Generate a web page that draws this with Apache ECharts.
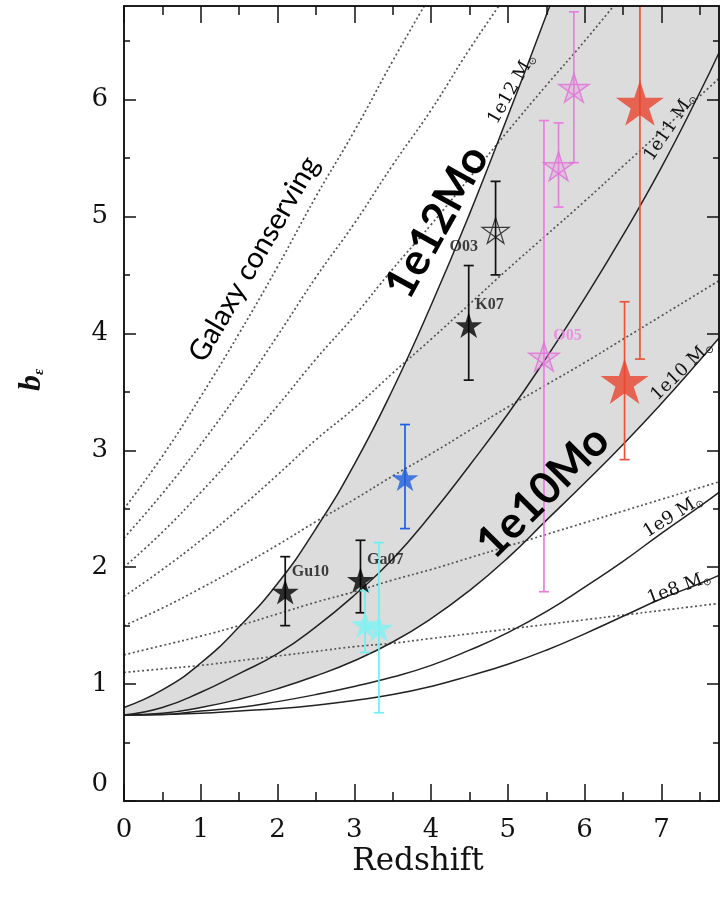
<!DOCTYPE html>
<html><head><meta charset="utf-8">
<script src="https://cdn.jsdelivr.net/npm/echarts@6/dist/echarts.min.js"></script>
<style>html,body{margin:0;padding:0;background:#fff}#c{width:724px;height:902px}</style>
</head><body><div id="c"></div>
<script>
// ---- axis ticks ----
const xMajor = [0,1,2,3,4,5,6,7];
const xMinor = [0.5,1.5,2.5,3.5,4.5,5.5,6.5,7.5];
const yMajor = [0,1,2,3,4,5,6];
const yMinor = [0.5,1.5,2.5,3.5,4.5,5.5,6.5];

// ---- redshift samples for curves ----
const zs = [0,0.5,1,1.5,2,2.5,3,3.5,4,4.5,5,5.5,6,6.5,7,7.5,7.75];

// constant halo mass curves (solid)
const m12 = [0.80,0.95,1.18,1.49,1.86,2.33,2.88,3.52,4.24,5.02,5.86,6.72,7.6,8.5,9.4,10.3,10.8];
const m11 = [0.735,0.80,0.93,1.09,1.26,1.49,1.76,2.07,2.45,2.87,3.31,3.79,4.30,4.84,5.42,6.06,6.40];
const m10 = [0.735,0.75,0.80,0.87,0.96,1.07,1.20,1.36,1.56,1.80,2.08,2.40,2.72,3.05,3.40,3.77,3.96];
const m9  = [0.735,0.74,0.77,0.80,0.85,0.91,0.98,1.06,1.16,1.29,1.44,1.62,1.83,2.05,2.29,2.52,2.64];
const m8  = [0.735,0.74,0.75,0.77,0.79,0.82,0.86,0.91,0.98,1.07,1.17,1.29,1.43,1.58,1.73,1.86,1.93];

// galaxy conserving curves (dotted)
const gcA = [2.5,2.95,3.46,4.0,4.57,5.17,5.73,6.33,6.9];
const gcB = [2.25,2.63,3.05,3.5,3.98,4.48,4.94,5.44,5.91,6.43,6.91];
const gcC = [2.0,2.3,2.64,3.0,3.38,3.78,4.15,4.55,4.93,5.33,5.73,6.12,6.5,6.9];
const gcD = [1.75,1.98,2.23,2.5,2.79,3.09,3.36,3.66,3.95,4.25,4.55,4.84,5.13,5.43,5.73,6.03,6.18];
const gcE = [1.5,1.65,1.82,2.0,2.19,2.39,2.58,2.78,2.97,3.17,3.37,3.56,3.75,3.95,4.15,4.35,4.45];
const gcF = [1.25,1.33,1.41,1.5,1.6,1.7,1.79,1.89,1.98,2.08,2.18,2.28,2.38,2.48,2.58,2.68,2.73];
const gcG = [1.1,1.13,1.16,1.2,1.24,1.28,1.32,1.35,1.39,1.43,1.47,1.51,1.55,1.59,1.63,1.67,1.69];

// measurements: [z, b, bLow, bHigh]
const blackFilled = [[2.10,1.79,1.50,2.09],[3.08,1.89,1.61,2.23],[4.49,4.07,3.60,4.58]];
const blackFilledNames = ['Gu10','Ga07','K07'];
const blackOpen = [[4.84,4.88,4.50,5.30]];
const blackOpenNames = ['O03'];
const blueStar = [[3.66,2.76,2.33,3.22]];
const cyanStars = [[3.14,1.51,1.27,1.80],[3.32,1.48,0.755,2.21]];
const pinkStars = [[5.47,3.80,1.79,5.82],[5.66,5.43,5.08,5.80],[5.86,6.10,5.46,6.75]];
const pinkNames = ['O05','',''];
const redStars = [[6.52,3.59,2.92,4.27],[6.72,5.97,3.78,7.2]];

const STAR = 'path://M50 0 L61.23 34.55 L97.55 34.55 L68.16 55.9 L79.39 90.45 L50 69.1 L20.61 90.45 L31.84 55.9 L2.45 34.55 L38.77 34.55 Z';
const PENTA = 'path://M50 0 L79.39 90.45 L2.45 34.55 L97.55 34.55 L20.61 90.45 Z';

const chart = echarts.init(document.getElementById('c'), null, {renderer:'canvas'});
const pair = v => v.map((y,i)=>[zs[i], y]);
const SERIF = 'DejaVu Serif';

function xAx(pos, ticks, len, labels){
  return {type:'value', min:0, max:7.75, position:pos, z:10,
    axisLine:{show:true, onZero:false, lineStyle:{color:'#111', width:1.5}},
    axisTick:{show:true, inside:true, length:len, customValues:ticks, lineStyle:{color:'#111', width:1.5}},
    axisLabel:labels ? {show:true, customValues:xMajor, fontFamily:SERIF, fontSize:26, color:'#111', margin:16} : {show:false},
    splitLine:{show:false}};
}
function yAx(pos, ticks, len, labels){
  return {type:'value', min:0, max:6.8, position:pos, z:10,
    axisLine:{show:true, onZero:false, lineStyle:{color:'#111', width:1.5}},
    axisTick:{show:true, inside:true, length:len, customValues:ticks, lineStyle:{color:'#111', width:1.5}},
    axisLabel:labels ? {show:true, customValues:yMajor, fontFamily:SERIF, fontSize:26, color:'#111', margin:16,
       formatter: v => v===0 ? '{z|0}' : String(v), rich:{z:{fontFamily:SERIF, fontSize:26, color:'#111', padding:[0,0,34,0]}}} : {show:false},
    splitLine:{show:false}};
}

function lineS(vals, opts){
  return Object.assign({type:'line', xAxisIndex:0, yAxisIndex:0, data:pair(vals), smooth:true, showSymbol:false, symbol:'none',
    silent:true, animation:false, clip:true, z:3,
    lineStyle:{color:'#222', width:1.5}}, opts||{});
}
function dotS(vals){
  return lineS(vals, {lineStyle:{color:'#555', width:1.7, type:[2,2.6]}});
}
function errS(data, color, cap){
  return {type:'custom', xAxisIndex:0, yAxisIndex:0, data:data, clip:true, z:4, silent:true, animation:false,
    renderItem:(p, api)=>{
      const x = api.value(0), lo = api.value(2), hi = api.value(3);
      const a = api.coord([x, lo]), b = api.coord([x, hi]);
      const st = {stroke:color, lineWidth:1.7};
      return {type:'group', children:[
        {type:'line', shape:{x1:a[0], y1:a[1], x2:b[0], y2:b[1]}, style:st},
        {type:'line', shape:{x1:a[0]-cap, y1:a[1], x2:a[0]+cap, y2:a[1]}, style:st},
        {type:'line', shape:{x1:b[0]-cap, y1:b[1], x2:b[0]+cap, y2:b[1]}, style:st}
      ]};
    }};
}
function starS(data, opts){
  return Object.assign({type:'scatter', xAxisIndex:0, yAxisIndex:0, data:data.map(d=>[d[0],d[1]]), z:5, silent:true, animation:false,
    symbol:STAR, symbolKeepAspect:true}, opts);
}
const ptLabel = (names, color, pos) => ({show:true, position:pos, formatter:p=>names[p.dataIndex],
  fontFamily:'Liberation Serif', fontWeight:'bold', fontSize:16, color:color});

const massText = (t, x, y, deg) => ({type:'text', x:x, y:y, z:100, rotation:deg*Math.PI/180,
  style:{text:t+' M{s|⊙}', fontFamily:SERIF, fontSize:18, fill:'#111', align:'center', verticalAlign:'middle',
    rich:{s:{fontFamily:'DejaVu Sans', fontSize:10, fill:'#111', padding:[9,0,0,0]}}}});

const option = {
  animation:false,
  grid:{left:124, top:6, width:595, height:795, containLabel:false},
  xAxis:[xAx('bottom', xMajor, 17, true), xAx('bottom', xMinor, 9, false), xAx('top', xMajor, 17, false), xAx('top', xMinor, 9, false)],
  yAxis:[yAx('left', yMajor, 12, true), yAx('left', yMinor, 6, false), yAx('right', yMajor, 12, false), yAx('right', yMinor, 6, false)],
  series:[
    // gray band between 1e10 and 1e12 : gray under 1e12, white under 1e10
    lineS(m12, {z:1, lineStyle:{width:0}, areaStyle:{color:'#dcdcdc', opacity:1, origin:'start'}}),
    lineS(m10, {z:2, lineStyle:{width:0}, areaStyle:{color:'#ffffff', opacity:1, origin:'start'}}),
    dotS(gcA), dotS(gcB), dotS(gcC), dotS(gcD), dotS(gcE), dotS(gcF), dotS(gcG),
    lineS(m12), lineS(m11), lineS(m10), lineS(m9), lineS(m8),
    errS(blackFilled, '#111', 5), errS(blackOpen, '#111', 5), errS(blueStar, '#1f5fe0', 5),
    errS(cyanStars, '#6ff0f0', 5), errS(pinkStars, '#e87fe0', 5), errS(redStars, '#e8553c', 5),
    starS(blackFilled, {symbolSize:27, itemStyle:{color:'#000'},
      label:ptLabel(blackFilledNames, '#111', [20,-15])}),
    starS(blackOpen, {symbol:PENTA, symbolSize:27, itemStyle:{color:'rgba(0,0,0,0)', borderColor:'#111', borderWidth:1.2},
      label:ptLabel(blackOpenNames, '#111', [-32,22])}),
    starS(blueStar, {symbolSize:27, itemStyle:{color:'#1f5fe0'}}),
    starS(cyanStars, {symbolSize:29, itemStyle:{color:'#7ff2f2'}}),
    starS(pinkStars, {symbol:PENTA, symbolSize:30, itemStyle:{color:'rgba(232,127,224,0.35)', borderColor:'#e070d8', borderWidth:1.5},
      label:ptLabel(pinkNames, '#e87fe0', [25,-14])}),
    starS(redStars, {symbolSize:48, itemStyle:{color:'#e8442e'}})
  ],
  graphic:[
    {type:'text', x:32, y:380, z:100, rotation:Math.PI/2, style:{text:'b{s|ε}', fontFamily:'Liberation Serif', fontStyle:'italic', fontWeight:'bold', fontSize:32, fill:'#111', align:'center', verticalAlign:'middle',
      rich:{s:{fontFamily:'Liberation Serif', fontStyle:'italic', fontWeight:'bold', fontSize:15, fill:'#111', padding:[14,0,0,0]}}}},
    {type:'text', x:418, y:862, z:100, style:{text:'Redshift', fontFamily:SERIF, fontSize:31, fill:'#111', align:'center', verticalAlign:'middle'}},
    {type:'text', x:254, y:259, z:100, rotation:60*Math.PI/180, style:{text:'Galaxy conserving', fontFamily:'Lato', fontSize:29, fill:'#000', align:'center', verticalAlign:'middle'}},
    {type:'text', x:437, y:222, z:100, rotation:61*Math.PI/180, style:{text:'1e12Mo', fontFamily:'Lato', fontWeight:'bold', fontSize:44, fill:'#000', align:'center', verticalAlign:'middle'}},
    {type:'text', x:543, y:492, z:100, rotation:45*Math.PI/180, style:{text:'1e10Mo', fontFamily:'Lato', fontWeight:'bold', fontSize:44, fill:'#000', align:'center', verticalAlign:'middle'}},
    massText('1e12', 512, 89, 60),
    massText('1e11', 670, 127, 56),
    massText('1e10', 682, 371, 44),
    massText('1e9', 673, 516, 32),
    massText('1e8', 679, 588, 20)
  ]
};
chart.setOption(option);
</script></body></html>
